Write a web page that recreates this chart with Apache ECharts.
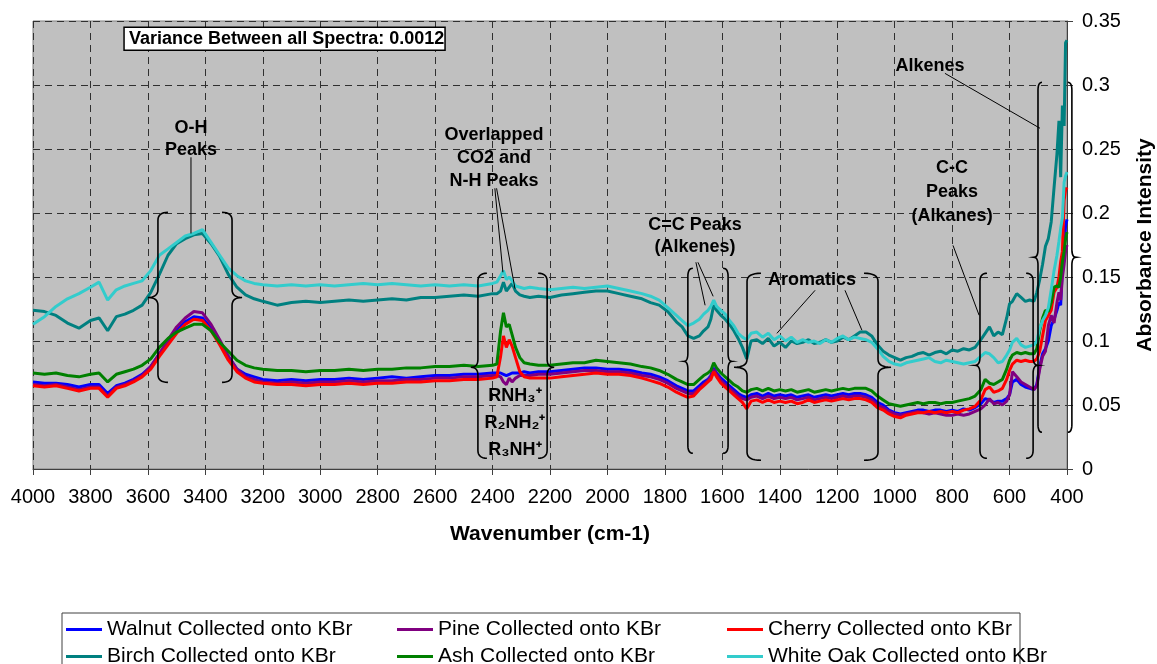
<!DOCTYPE html>
<html>
<head>
<meta charset="utf-8">
<script src="https://cdn.jsdelivr.net/npm/echarts@6/dist/echarts.min.js"></script>
<style>
html,body{margin:0;padding:0;background:#fff;}
#main{width:1157px;height:664px;}
</style>
</head>
<body>
<div id="main"></div>
<script>
// ---------------- DATA ----------------
const wavenumbers = [
 4000,3960,3920,3880,3840,3800,3770,3740,3710,3680,3650,3620,3590,3560,3530,3500,3470,3440,3410,3380,3350,3320,3290,3260,3230,3200,
 3150,3100,3050,3000,2950,2900,2850,2800,2750,2700,2650,2600,2550,2500,2450,2400,
 2385,2372,2362,2352,2342,2332,2320,2305,2290,2270,2240,2200,
 2160,2120,2080,2040,2000,1960,1920,1880,1850,1820,1790,1760,1740,1720,1700,1680,
 1665,1650,1640,1630,1620,1605,1590,1575,1560,1545,1530,1515,1500,
 1480,1460,1440,1420,1400,1380,1360,1340,1320,1300,1280,1260,1240,1220,1200,1180,1160,1140,1120,1100,1080,1060,1040,1020,1000,
 980,960,940,920,900,880,860,840,820,800,780,760,740,720,700,
 685,670,655,640,625,610,600,590,575,560,545,530,515,505,495,485,475,465,455,445,435,428,422,416,410,405,400
];

const walnut = [
 0.068,0.067,0.067,0.066,0.064,0.066,0.066,0.059,0.065,0.067,0.070,0.074,0.080,0.090,0.099,0.108,0.115,0.119,0.118,0.110,0.099,0.088,0.078,0.074,0.072,0.070,
 0.069,0.070,0.069,0.070,0.070,0.071,0.070,0.071,0.072,0.071,0.072,0.073,0.073,0.074,0.074,0.075,
 0.075,0.075,0.074,0.073,0.074,0.075,0.075,0.075,0.076,0.075,0.076,0.076,
 0.077,0.078,0.079,0.079,0.078,0.078,0.077,0.075,0.074,0.072,0.069,0.065,0.063,0.061,0.061,0.065,
 0.068,0.070,0.073,0.079,0.075,0.071,0.068,0.065,0.062,0.059,0.057,0.056,0.058,
 0.059,0.057,0.059,0.057,0.058,0.057,0.058,0.056,0.057,0.058,0.056,0.057,0.058,0.057,0.058,0.059,0.058,0.059,0.059,0.058,0.056,0.052,0.050,0.046,0.044,
 0.043,0.044,0.045,0.046,0.046,0.045,0.046,0.046,0.045,0.046,0.045,0.047,0.046,0.048,0.051,
 0.055,0.054,0.052,0.053,0.053,0.055,0.058,0.068,0.070,0.066,0.064,0.063,0.062,0.066,0.080,0.090,0.094,0.100,0.112,0.117,0.124,0.130,0.128,0.160,0.172,0.190,0.195
];

const pine = [
 0.066,0.065,0.066,0.064,0.062,0.064,0.064,0.057,0.064,0.066,0.069,0.073,0.080,0.090,0.101,0.111,0.118,0.123,0.122,0.113,0.101,0.088,0.078,0.072,0.070,0.068,
 0.067,0.068,0.067,0.068,0.068,0.069,0.068,0.069,0.069,0.070,0.070,0.071,0.071,0.072,0.072,0.073,
 0.073,0.072,0.068,0.066,0.071,0.068,0.071,0.073,0.073,0.073,0.074,0.074,
 0.075,0.076,0.077,0.077,0.076,0.076,0.075,0.073,0.072,0.070,0.067,0.063,0.061,0.059,0.059,0.063,
 0.066,0.069,0.072,0.078,0.074,0.069,0.066,0.063,0.060,0.057,0.055,0.054,0.056,
 0.057,0.055,0.057,0.055,0.056,0.055,0.056,0.054,0.055,0.056,0.054,0.055,0.056,0.055,0.056,0.057,0.056,0.057,0.057,0.056,0.054,0.050,0.048,0.045,0.043,
 0.042,0.043,0.044,0.045,0.044,0.043,0.044,0.043,0.042,0.042,0.043,0.042,0.043,0.045,0.047,
 0.050,0.055,0.051,0.052,0.050,0.053,0.058,0.076,0.072,0.068,0.066,0.064,0.062,0.065,0.078,0.088,0.092,0.112,0.120,0.114,0.130,0.138,0.132,0.150,0.160,0.170,0.175
];

const cherry = [
 0.065,0.064,0.065,0.063,0.061,0.063,0.063,0.056,0.063,0.065,0.068,0.072,0.078,0.088,0.097,0.106,0.113,0.117,0.116,0.108,0.097,0.085,0.076,0.071,0.068,0.067,
 0.066,0.066,0.065,0.066,0.066,0.067,0.066,0.067,0.067,0.068,0.068,0.069,0.069,0.070,0.070,0.071,
 0.072,0.088,0.104,0.095,0.101,0.096,0.087,0.076,0.072,0.071,0.071,0.071,
 0.072,0.073,0.074,0.075,0.074,0.074,0.073,0.071,0.069,0.067,0.064,0.060,0.058,0.056,0.057,0.062,
 0.065,0.068,0.070,0.076,0.072,0.067,0.064,0.061,0.058,0.055,0.052,0.047,0.053,
 0.054,0.052,0.054,0.052,0.053,0.052,0.053,0.051,0.052,0.054,0.052,0.053,0.054,0.053,0.054,0.055,0.054,0.055,0.055,0.054,0.052,0.048,0.046,0.043,0.041,
 0.040,0.042,0.043,0.044,0.044,0.045,0.044,0.045,0.044,0.045,0.044,0.046,0.047,0.049,0.054,
 0.062,0.064,0.060,0.061,0.063,0.070,0.077,0.082,0.085,0.084,0.085,0.084,0.084,0.086,0.092,0.104,0.116,0.120,0.124,0.138,0.142,0.150,0.162,0.170,0.210,0.218,0.220
];

const birch = [
 0.124,0.123,0.120,0.114,0.110,0.116,0.118,0.108,0.119,0.121,0.124,0.128,0.138,0.152,0.167,0.176,0.180,0.183,0.184,0.176,0.166,0.152,0.142,0.136,0.133,0.131,
 0.128,0.130,0.131,0.130,0.131,0.132,0.131,0.132,0.133,0.132,0.134,0.134,0.135,0.136,0.135,0.137,
 0.137,0.139,0.146,0.139,0.142,0.145,0.139,0.136,0.135,0.134,0.135,0.134,
 0.136,0.137,0.138,0.139,0.139,0.137,0.135,0.133,0.130,0.128,0.123,0.115,0.111,0.104,0.102,0.104,
 0.108,0.111,0.117,0.128,0.124,0.120,0.117,0.113,0.108,0.102,0.095,0.086,0.100,
 0.101,0.098,0.102,0.096,0.099,0.095,0.100,0.098,0.099,0.101,0.098,0.099,0.101,0.099,0.100,0.103,0.101,0.104,0.107,0.107,0.104,0.097,0.092,0.089,0.087,
 0.085,0.087,0.088,0.090,0.091,0.089,0.091,0.092,0.090,0.093,0.092,0.094,0.093,0.095,0.101,
 0.106,0.111,0.104,0.107,0.105,0.118,0.129,0.131,0.137,0.134,0.131,0.132,0.131,0.138,0.148,0.160,0.174,0.180,0.193,0.220,0.246,0.272,0.228,0.284,0.268,0.333,0.335
];

const ash = [
 0.075,0.074,0.075,0.073,0.072,0.074,0.075,0.068,0.074,0.076,0.078,0.081,0.086,0.095,0.102,0.107,0.110,0.113,0.113,0.108,0.099,0.092,0.085,0.081,0.079,0.078,
 0.077,0.077,0.076,0.077,0.077,0.078,0.077,0.078,0.078,0.079,0.079,0.080,0.080,0.081,0.080,0.081,
 0.082,0.108,0.122,0.111,0.113,0.105,0.095,0.087,0.083,0.082,0.081,0.081,
 0.082,0.083,0.083,0.085,0.084,0.083,0.082,0.080,0.079,0.077,0.074,0.070,0.068,0.066,0.066,0.070,
 0.073,0.075,0.077,0.083,0.079,0.075,0.072,0.069,0.066,0.064,0.061,0.060,0.062,
 0.063,0.061,0.063,0.061,0.062,0.061,0.062,0.060,0.061,0.062,0.060,0.061,0.062,0.061,0.062,0.063,0.062,0.063,0.063,0.063,0.061,0.057,0.054,0.051,0.050,
 0.049,0.050,0.051,0.052,0.051,0.052,0.052,0.051,0.052,0.052,0.053,0.054,0.055,0.057,0.062,
 0.070,0.067,0.066,0.068,0.070,0.078,0.085,0.089,0.091,0.090,0.091,0.090,0.090,0.094,0.108,0.118,0.124,0.123,0.130,0.142,0.143,0.142,0.150,0.162,0.170,0.180,0.185
];

const whiteOak = [
 0.113,0.119,0.127,0.133,0.137,0.142,0.146,0.132,0.140,0.143,0.145,0.147,0.155,0.167,0.172,0.177,0.182,0.184,0.187,0.177,0.167,0.157,0.151,0.147,0.145,0.144,
 0.143,0.144,0.143,0.144,0.143,0.144,0.145,0.144,0.145,0.144,0.143,0.144,0.143,0.144,0.143,0.145,
 0.146,0.151,0.155,0.148,0.150,0.147,0.143,0.142,0.141,0.142,0.141,0.140,
 0.141,0.142,0.141,0.142,0.143,0.141,0.139,0.137,0.135,0.132,0.126,0.120,0.116,0.112,0.114,0.117,
 0.121,0.124,0.127,0.132,0.127,0.124,0.121,0.116,0.112,0.106,0.103,0.101,0.106,
 0.107,0.103,0.106,0.101,0.104,0.100,0.103,0.099,0.101,0.099,0.100,0.098,0.101,0.099,0.102,0.104,0.101,0.103,0.102,0.101,0.099,0.094,0.088,0.084,0.082,
 0.081,0.083,0.084,0.085,0.086,0.087,0.084,0.083,0.085,0.084,0.083,0.082,0.083,0.084,0.088,
 0.091,0.090,0.087,0.083,0.084,0.089,0.093,0.099,0.102,0.097,0.095,0.096,0.097,0.100,0.110,0.116,0.120,0.126,0.140,0.155,0.167,0.178,0.188,0.196,0.224,0.229,0.232
];

const seriesNames = ['Walnut Collected onto KBr','Pine Collected onto KBr','Cherry Collected onto KBr',
                     'Birch Collected onto KBr','Ash Collected onto KBr','White Oak Collected onto KBr'];
const seriesValues = [walnut, pine, cherry, birch, ash, whiteOak];
const seriesColors = ['#0000FF','#800080','#FF0000','#008080','#008000','#33CCCC'];

const xTickInterval = 200;
const yTickInterval = 0.05;
const xLabelTitle = 'Wavenumber (cm-1)';
const yLabelTitle = 'Absorbance Intensity';
const varianceText = 'Variance Between all Spectra: 0.0012';

// Annotations (in data coordinates: wavenumber, absorbance)
const braces = [
  {side:'left',  x:3565, top:0.2005, bottom:0.0677, tip:0.134, arm:10, tipLen:10},
  {side:'right', x:3307, top:0.2005, bottom:0.0677, tip:0.134, arm:10, tipLen:10},
  {side:'left',  x:2451, top:0.1529, bottom:0.0084, tip:0.0795, arm:9, tipLen:7},
  {side:'right', x:2210, top:0.1529, bottom:0.0084, tip:0.0795, arm:9, tipLen:7},
  {side:'left',  x:1720, top:0.1568, bottom:0.0123, tip:0.0841, arm:5, tipLen:4},
  {side:'right', x:1580, top:0.1568, bottom:0.0123, tip:0.0841, arm:5, tipLen:4},
  {side:'left',  x:1514, top:0.1529, bottom:0.0068, tip:0.0795, arm:14, tipLen:13},
  {side:'right', x:1058, top:0.1529, bottom:0.0068, tip:0.0795, arm:14, tipLen:13},
  {side:'left',  x:703,  top:0.1529, bottom:0.0084, tip:0.081, arm:7, tipLen:5},
  {side:'right', x:518,  top:0.1529, bottom:0.0084, tip:0.081, arm:7, tipLen:5},
  {side:'left',  x:501,  top:0.3021, bottom:0.0287, tip:0.1654, arm:4, tipLen:4},
  {side:'right', x:383,  top:0.3021, bottom:0.0287, tip:0.1654, arm:4, tipLen:4}
];
const labels = [
  {text:'O-H\nPeaks', x:3450, y:0.2576, lh:22},
  {text:'Overlapped\nCO2 and\nN-H Peaks', x:2395, y:0.2427, lh:23},
  {text:'RNH\u2083\u207A\nR\u2082NH\u2082\u207A\nR\u2083NH\u207A', x:2322, y:0.0357, lh:27},
  {text:'C=C Peaks\n(Alkenes)', x:1695, y:0.1818, lh:22},
  {text:'Aromatics', x:1288, y:0.1474, lh:22},
  {text:'C-C\nPeaks\n(Alkanes)', x:800, y:0.216, lh:24},
  {text:'Alkenes', x:877, y:0.3146, lh:22}
];
const leaders = [
  [3450,0.2435,3450,0.184],
  [2392,0.2193,2364,0.1537],
  [2386,0.2193,2322,0.141],
  [1692,0.1615,1660,0.1279],
  [1685,0.1615,1632,0.1349],
  [1277,0.1396,1410,0.106],
  [1173,0.1396,1114,0.1084],
  [797,0.1747,706,0.1201],
  [825,0.3091,494,0.2662]
];
const varianceBoxAnchor = [3683, 0.3451];

// ---------------- CHART ----------------
const FONT = '"Liberation Sans", Arial, sans-serif';
const chart = echarts.init(document.getElementById('main'), null, {renderer:'canvas'});

const legendLeft = [66, 397, 727, 66, 397, 727];
const legendTop = [619, 619, 619, 646, 646, 646];

const option = {
  animation: false,
  backgroundColor: '#fff',
  grid: {left:33, right:90, top:21, bottom:195, containLabel:false, outerBoundsMode:'none',
         show:true, backgroundColor:'#C0C0C0', borderColor:'#808080', borderWidth:1},
  legend: seriesNames.map((n,i)=>({
    data:[n], left:legendLeft[i], top:legendTop[i], padding:0, itemWidth:36, itemHeight:3, icon:'rect',
    selectedMode:false, textStyle:{fontSize:21, color:'#000', fontFamily:FONT, lineHeight:21}
  })),
  xAxis: {
    type:'value', min:400, max:4000, interval:xTickInterval, inverse:true,
    axisLine:{show:true, onZero:false, lineStyle:{color:'#404040', width:1}},
    axisTick:{show:true, length:6, lineStyle:{color:'#404040'}},
    axisLabel:{fontSize:20, color:'#000', fontFamily:FONT, margin:18, formatter:v=>String(v)},
    splitLine:{show:true, lineStyle:{type:[7,5], color:'#303030', width:1}},
    name:xLabelTitle, nameLocation:'middle', nameGap:55,
    nameTextStyle:{fontSize:21, fontWeight:'bold', color:'#000', fontFamily:FONT}
  },
  yAxis: {
    type:'value', position:'right', min:0, max:0.35, interval:yTickInterval,
    axisLine:{show:true, onZero:false, lineStyle:{color:'#404040', width:1}},
    axisTick:{show:true, length:6, lineStyle:{color:'#404040'}},
    axisLabel:{fontSize:20, color:'#000', fontFamily:FONT, margin:15},
    splitLine:{show:true, lineStyle:{type:[7,5], color:'#303030', width:1}},
    name:yLabelTitle, nameLocation:'middle', nameGap:68, nameRotate:90,
    nameTextStyle:{fontSize:21, fontWeight:'bold', color:'#000', fontFamily:FONT}
  },
  series: seriesNames.map((n,i)=>({
    name:n, type:'line', showSymbol:false, symbol:'none',
    data: wavenumbers.map((w,k)=>[w, seriesValues[i][k]]),
    lineStyle:{width:3, color:seriesColors[i]}, itemStyle:{color:seriesColors[i]},
    z: 2 + i
  }))
};
chart.setOption(option);

function px(w, v){ return chart.convertToPixel({xAxisIndex:0, yAxisIndex:0}, [w, v]); }

function quad(pts, p0, c, p1){
  for (let k = 1; k <= 8; k++){
    const t = k/8, u = 1-t;
    pts.push([u*u*p0[0] + 2*u*t*c[0] + t*t*p1[0], u*u*p0[1] + 2*u*t*c[1] + t*t*p1[1]]);
  }
}
function bracePoints(b){
  const p1 = px(b.x, b.top), p2 = px(b.x, b.bottom), pm = px(b.x, b.tip);
  const X = p1[0], T = p1[1], B = p2[1], M = pm[1];
  const s = b.side === 'left' ? 1 : -1;
  const a = b.arm * s, t = b.tipLen * s;
  const r = 8;
  const pts = [[X+a, T]];
  quad(pts, [X+a, T], [X, T], [X, T+r]);
  pts.push([X, M-r]);
  quad(pts, [X, M-r], [X, M], [X-t, M]);
  quad(pts, [X-t, M], [X, M], [X, M+r]);
  pts.push([X, B-r]);
  quad(pts, [X, B-r], [X, B], [X+a, B]);
  return pts;
}

const graphics = [];
braces.forEach(b=>{
  graphics.push({type:'polyline', z:100, shape:{points:bracePoints(b)}, style:{stroke:'#000', lineWidth:1.6, fill:null}});
});
leaders.forEach(l=>{
  const a = px(l[0], l[1]), b = px(l[2], l[3]);
  graphics.push({type:'line', z:100, shape:{x1:a[0], y1:a[1], x2:b[0], y2:b[1]}, style:{stroke:'#000', lineWidth:1}});
});
labels.forEach(t=>{
  const p = px(t.x, t.y);
  graphics.push({type:'text', z:101, x:p[0], y:p[1],
    style:{text:t.text, fill:'#000', font:'bold 18px ' + FONT, align:'center', verticalAlign:'middle', lineHeight:t.lh}});
});
const vb = px(varianceBoxAnchor[0], varianceBoxAnchor[1]);
graphics.push({type:'rect', z:100, shape:{x:vb[0], y:vb[1], width:321, height:23}, style:{fill:'#fff', stroke:'#000', lineWidth:1.5}});
graphics.push({type:'text', z:101, x:vb[0]+5, y:vb[1]+12, style:{text:varianceText, fill:'#000', font:'bold 18px ' + FONT, align:'left', verticalAlign:'middle'}});
// legend frame
graphics.push({type:'rect', z:0, shape:{x:62, y:613, width:958, height:60}, style:{fill:null, stroke:'#404040', lineWidth:1}});

chart.setOption({graphic: graphics});
</script>
</body>
</html>
